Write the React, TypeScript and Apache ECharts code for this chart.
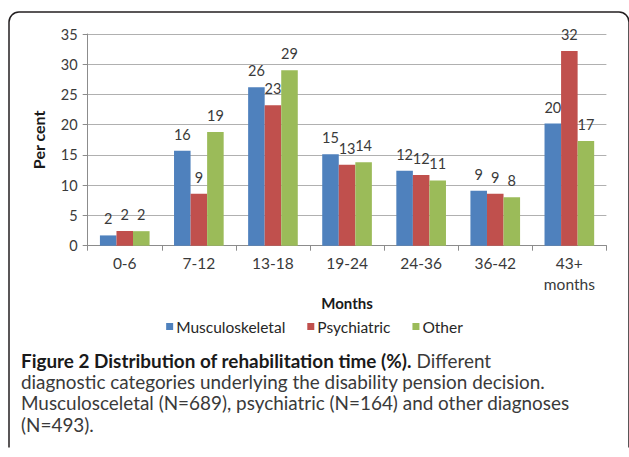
import React, { useEffect, useRef } from "react";
import * as echarts from "echarts";

const categories = ["0-6", "7-12", "13-18", "19-24", "24-36", "36-42", "43+\nmonths"];
const musculoskeletal = [1.7, 15.7, 26.2, 15.1, 12.4, 9.1, 20.2];
const psychiatric = [2.45, 8.6, 23.2, 13.4, 11.7, 8.6, 32.2];
const other = [2.4, 18.8, 29.0, 13.8, 10.8, 8.0, 17.3];
const seriesNames = ["Musculoskeletal", "Psychiatric", "Other"];
const colors = ["#4f81bd", "#c0504d", "#9bbb59"];
const yTicks = { min: 0, max: 35, interval: 5 };
const captionLines = [
  { bold: "Figure 2 Distribution of rehabilitation time (%).", rest: " Different" },
  { bold: "", rest: "diagnostic categories underlying the disability pension decision." },
  { bold: "", rest: "Musculosceletal (N=689), psychiatric (N=164) and other diagnoses" },
  { bold: "", rest: "(N=493)." },
];

const chartFont = "Lato, 'Open Sans', sans-serif";
const capFont = "Lato, 'Open Sans', sans-serif";

export default function App() {
  const ref = useRef<HTMLDivElement>(null);
  useEffect(() => {
    if (!ref.current) return;
    const chart = echarts.init(ref.current, null, { renderer: "svg" });
    const data = [musculoskeletal, psychiatric, other];
    const capY = [362, 383.5, 404.5, 426];
    chart.setOption({
      animation: false,
      backgroundColor: "#ffffff",
      textStyle: { fontFamily: chartFont },
      grid: { left: 87.7, right: 22.6, top: 34, bottom: 211.3, containLabel: false },
      legend: {
        data: seriesNames,
        top: 313.5,
        left: "center",
        itemWidth: 7,
        itemHeight: 7,
        itemGap: 22,
        icon: "rect",
        textStyle: { fontFamily: chartFont, fontSize: 15.5, color: "#262626", padding: [0, 0, 0, -2] },
      },
      xAxis: {
        type: "category",
        data: categories,
        name: "Months",
        nameLocation: "middle",
        nameGap: 48,
        nameTextStyle: { fontFamily: chartFont, fontSize: 15, fontWeight: "bold", color: "#1a1a1a" },
        axisLine: { lineStyle: { color: "#8c8c8c", width: 1 } },
        axisTick: { show: true, length: 5, lineStyle: { color: "#8c8c8c" } },
        axisLabel: { fontFamily: chartFont, fontSize: 15.5, color: "#3a3a3a", margin: 7, lineHeight: 21 },
      },
      yAxis: {
        type: "value",
        min: yTicks.min,
        max: yTicks.max,
        interval: yTicks.interval,
        name: "Per cent",
        nameLocation: "middle",
        nameGap: 41,
        nameRotate: 90,
        nameTextStyle: { fontFamily: chartFont, fontSize: 16, fontWeight: "bold", color: "#1a1a1a" },
        axisLine: { show: true, lineStyle: { color: "#8c8c8c", width: 1 } },
        axisTick: { show: true, length: 5, lineStyle: { color: "#8c8c8c" } },
        axisLabel: { fontFamily: chartFont, fontSize: 14.5, color: "#3a3a3a", margin: 10 },
        splitLine: { lineStyle: { color: "#b0b0b0", width: 1 } },
      },
      series: seriesNames.map((name, i) => ({
        name,
        type: "bar",
        data: data[i],
        barGap: "0%",
        barCategoryGap: "33%",
        itemStyle: { color: colors[i] },
        label: {
          show: true,
          position: "top",
          distance: 9,
          fontFamily: chartFont,
          fontSize: 14.5,
          color: "#3a3a3a",
          formatter: (p: any) => String(Math.round(p.value)),
        },
      })),
      graphic: [
        {
          type: "rect",
          shape: { x: 9, y: 12, width: 620, height: 480, r: [10, 10, 0, 0] },
          style: { fill: "none", stroke: "#231f20", lineWidth: 1.5 },
          silent: true,
        },
        {
          type: "rect",
          shape: { x: 0, y: 447.5, width: 629, height: 20 },
          style: { fill: "#ffffff" },
          silent: true,
        },
        ...captionLines.map((l, i) => ({
          type: "text",
          left: 21,
          top: capY[i] - 11.5,
          style: {
            text: (l.bold ? "{b|" + l.bold + "}" : "") + l.rest,
            font: "18.9px " + capFont,
            fill: "#3a3a3a",
            rich: {
              b: { fontFamily: capFont, fontSize: 18.9, fontWeight: "bold", fill: "#1a1a1a", color: "#1a1a1a" },
            },
          },
        })),
      ],
    });
    return () => chart.dispose();
  }, []);
  return (
    <div
      ref={ref}
      style={{ position: "fixed", left: 0, top: 0, width: 629, height: 457, background: "#fff" }}
    />
  );
}
